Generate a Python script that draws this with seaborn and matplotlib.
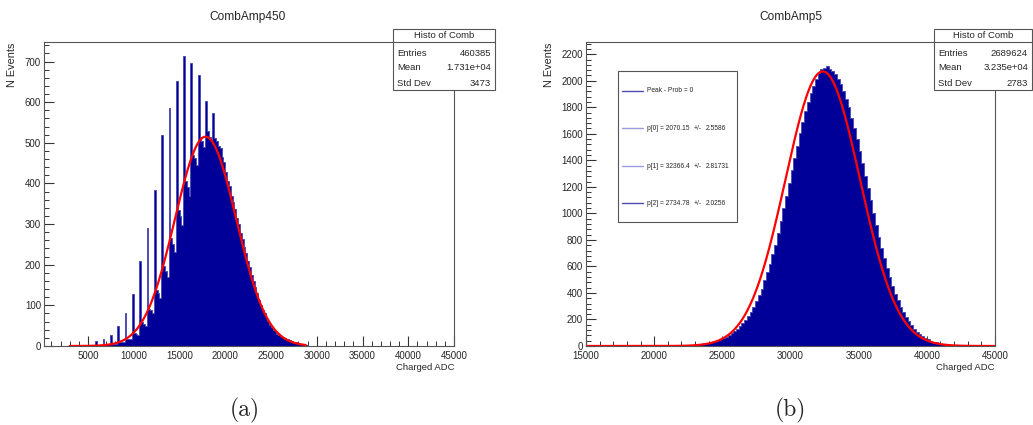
import numpy as np
import pandas as pd
import matplotlib
matplotlib.use("Agg")
import matplotlib.pyplot as plt
import seaborn as sns
from matplotlib.ticker import MultipleLocator
from matplotlib.patches import Rectangle
from matplotlib.lines import Line2D

# ---------------- data ----------------
left_title = "CombAmp450"
right_title = "CombAmp5"
x_label = "Charged ADC"
y_label = "N Events"
panel_labels = ["(a)", "(b)"]

left_bin_start = 3000
left_bin_width = 200
left_counts = [
    0, 0, 1, 0, 0,
    1, 0, 1, 1, 1,
    1, 2, 1, 2, 12,
    3, 3, 2, 18, 4,
    4, 4, 28, 6, 6,
    6, 48, 10, 10, 9,
    80, 18, 17, 16, 128,
    32, 30, 28, 210, 58,
    55, 50, 290, 92, 88,
    80, 384, 138, 130, 118,
    520, 196, 185, 170, 585,
    265, 250, 232, 651, 335,
    320, 298, 713, 405, 390,
    368, 696, 470, 462, 445,
    667, 515, 505, 490, 602,
    528, 515, 508, 573, 512,
    505, 492, 486, 466, 452,
    428, 406, 394, 370, 354,
    336, 316, 300, 279, 264,
    244, 229, 209, 194, 175,
    161, 144, 131, 114, 102,
    89, 81, 69, 62, 52,
    47, 39, 36, 30, 28,
    25, 23, 20, 18, 16,
    14, 12, 11, 9, 8,
    7, 6, 5, 3, 2,
]

right_bin_start = 20000
right_bin_width = 200
right_counts = [
    1, 1, 1, 2, 2,
    2, 3, 3, 4, 5,
    5, 6, 8, 9, 11,
    12, 14, 17, 19, 23,
    26, 30, 36, 42, 50,
    62, 70, 84, 96, 112,
    128, 150, 172, 196, 228,
    258, 292, 340, 382, 430,
    500, 555, 620, 690, 765,
    850, 940, 1040, 1130, 1230,
    1330, 1420, 1510, 1605, 1690,
    1770, 1840, 1905, 1960, 2010,
    2060, 2085, 2095, 2110, 2090,
    2070, 2050, 2015, 1975, 1925,
    1860, 1800, 1720, 1645, 1560,
    1470, 1380, 1285, 1195, 1100,
    1000, 910, 825, 740, 660,
    590, 520, 455, 395, 345,
    295, 255, 215, 185, 155,
    130, 108, 90, 75, 62,
    50, 41, 33, 27, 22,
    17, 13, 10, 8, 6,
    5, 4, 3, 2, 2,
]

stat_title = "Histo of Comb"
stat_labels = ["Entries", "Mean", "Std Dev"]
left_stats = ["460385", "1.731e+04", "3473"]
right_stats = ["2689624", "3.235e+04", "2783"]

# gaussian fit parameters: constant, mean, sigma
left_fit = [515.0, 17850.0, 3350.0]          # estimated from the drawn curve
left_fit_range = [3000, 28800]
right_fit = [2070.15, 32366.4, 2734.78]
right_fit_err = ["2.5586", "2.81731", "2.0256"]
right_fit_range = [15000, 45000]
fit_header = "Peak - Prob = 0"
fit_names = ["p[0]", "p[1]", "p[2]"]

left_xlim = [190, 45000]
left_ylim = [0, 748]
right_xlim = [15000, 45000]
right_ylim = [0, 2292]

# ---------------- style ----------------
sns.set_style("white")
FONT = ["Liberation Sans", "DejaVu Sans"]
plt.rcParams["font.family"] = FONT

W, H = 1033, 425
fig = plt.figure(figsize=(W / 100, H / 100), dpi=100)


def fx(x):
    return x / W


def fy(y):
    return 1 - y / H


HIST_FILL = "#000099"
HIST_EDGE = "#4646b4"
FRAME = "#555555"
TICK_FS = 7.0
SMALL_FS = 6.8


def draw_panel(rect, counts, start, width, fit, fit_range, xlim, ylim, ymaj, ymin):
    ax = fig.add_axes(rect)
    n = len(counts)
    edges = start + width * np.arange(n + 1)
    centers = edges[:-1] + width / 2
    df = pd.DataFrame({"adc": centers, "n": np.asarray(counts, dtype=float)})
    sns.histplot(data=df, x="adc", weights="n", binwidth=width,
                 binrange=(float(edges[0]), float(edges[-1])), element="step",
                 fill=True, color=HIST_FILL, alpha=1.0, edgecolor=HIST_EDGE,
                 linewidth=0.6, ax=ax)
    xs = np.linspace(fit_range[0], fit_range[1], 800)
    a, m, s = fit
    ys = a * np.exp(-0.5 * ((xs - m) / s) ** 2)
    sns.lineplot(x=xs, y=ys, color="#ff0000", linewidth=1.6, ax=ax, zorder=5)
    ax.set_xlim(*xlim)
    ax.set_ylim(*ylim)
    ax.set_xlabel("")
    ax.set_ylabel("")
    ax.xaxis.set_major_locator(MultipleLocator(5000))
    ax.xaxis.set_minor_locator(MultipleLocator(1000))
    ax.yaxis.set_major_locator(MultipleLocator(ymaj))
    ax.yaxis.set_minor_locator(MultipleLocator(ymin))
    ax.tick_params(axis="both", which="major", direction="in", length=7.2, width=0.8,
                   color="#333333", pad=2.2, labelsize=TICK_FS, bottom=True, left=True,
                   top=False, right=False)
    ax.tick_params(axis="x", which="major", pad=3.6)
    ax.tick_params(axis="both", which="minor", direction="in", length=3.6, width=0.7,
                   color="#333333", bottom=True, left=True, top=False, right=False)
    for sp in ax.spines.values():
        sp.set_color(FRAME)
        sp.set_linewidth(0.8)
    return ax


axL = draw_panel([fx(44), fy(346), fx(454) - fx(44), fy(42) - fy(346)],
                 left_counts, left_bin_start, left_bin_width, left_fit, left_fit_range,
                 left_xlim, left_ylim, 100, 20)
axR = draw_panel([fx(586), fy(346), fx(995) - fx(586), fy(42) - fy(346)],
                 right_counts, right_bin_start, right_bin_width, right_fit, right_fit_range,
                 right_xlim, right_ylim, 200, 40)
# lift the bottom "0" label of the right panel a touch so it clears the "15000" label
for lab in axR.get_yticklabels():
    lab.set_verticalalignment("center_baseline")

# titles and axis labels
fig.text(fx(248), fy(17), left_title, ha="center", va="center", fontsize=8.6)
fig.text(fx(791), fy(17), right_title, ha="center", va="center", fontsize=8.6)
for xl, xr in [(12, 454), (549, 995)]:
    fig.text(fx(xl), fy(43), y_label, rotation=90, ha="center", va="top",
             fontsize=7.8)
    fig.text(fx(xr), fy(368), x_label, ha="right", va="center",
             fontsize=SMALL_FS)

# panel captions
fig.text(fx(245), fy(410), panel_labels[0], ha="center", va="center", fontsize=17, family="cmr10")
fig.text(fx(790), fy(410), panel_labels[1], ha="center", va="center", fontsize=17, family="cmr10")


# stats boxes
def stats_box(x0, x1, values):
    fig.add_artist(Rectangle((fx(x0), fy(90)), fx(x1) - fx(x0), fy(29) - fy(90),
                             transform=fig.transFigure, facecolor="white",
                             edgecolor=FRAME, linewidth=0.8, zorder=6))
    fig.add_artist(Line2D([fx(x0), fx(x1)], [fy(42), fy(42)], transform=fig.transFigure,
                          color=FRAME, linewidth=0.8, zorder=7))
    fig.text(fx((x0 + x1) / 2), fy(35.5), stat_title, ha="center", va="center",
             fontsize=SMALL_FS, zorder=8)
    for i, (lab, val) in enumerate(zip(stat_labels, values)):
        yy = 53 + 15 * i
        fig.text(fx(x0 + 4), fy(yy), lab, ha="left", va="center",
                 fontsize=SMALL_FS, zorder=8)
        fig.text(fx(x1 - 4), fy(yy), val, ha="right", va="center",
                 fontsize=SMALL_FS, zorder=8)


stats_box(393, 495, left_stats)
stats_box(934, 1032, right_stats)

# fit legend box on right panel
fig.add_artist(Rectangle((fx(618), fy(222)), fx(737) - fx(618), fy(71) - fy(222),
                         transform=fig.transFigure, facecolor="white",
                         edgecolor=FRAME, linewidth=0.8, zorder=6))
rows_y = [90.7, 128.3, 166, 203.3]
line_cols = ["#4b4bb4", "#9a9ae0", "#9a9ae0", "#4b4bb4"]
row_texts = [fit_header] + [f"{nm} = {v:g}" for nm, v in zip(fit_names, right_fit)]
for i, yy in enumerate(rows_y):
    fig.add_artist(Line2D([fx(622), fx(643)], [fy(yy), fy(yy)], transform=fig.transFigure,
                          color=line_cols[i], linewidth=1.0, zorder=7))
    fig.text(fx(647), fy(yy), row_texts[i], ha="left", va="center",
             fontsize=4.8, zorder=8)
    if i > 0:
        fig.text(fx(698), fy(yy), "+/-", ha="center", va="center",
                 fontsize=4.8, zorder=8)
        fig.text(fx(706), fy(yy), right_fit_err[i - 1], ha="left", va="center",
                 fontsize=4.8, zorder=8)

fig.savefig("out.png", dpi=100)
